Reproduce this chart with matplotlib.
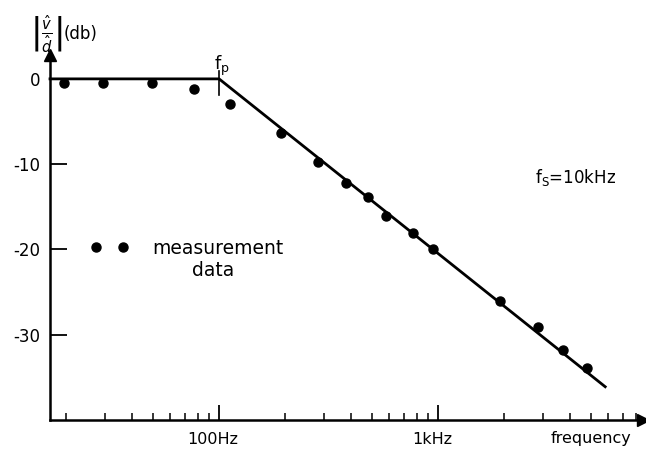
import matplotlib
matplotlib.use("Agg")
import matplotlib.pyplot as plt
import matplotlib.transforms as mtransforms

plt.rcParams['font.family'] = ['DejaVu Sans']
plt.rcParams['mathtext.fontset'] = 'dejavusans'

# measured points (Hz, dB)
meas_f = [19.6, 29.5, 49.4, 76.9, 112, 192, 283, 380, 479, 579, 769, 949,
          1920, 2860, 3720, 4790]
meas_db = [-0.5, -0.5, -0.5, -1.2, -2.9, -6.3, -9.8, -12.2, -13.8, -16.1,
           -18.1, -19.9, -26.1, -29.1, -31.8, -33.9]

# straight-line asymptote
asym_f = [16.9, 100, 5800]
asym_db = [0, 0, -36.1]

fp = 100
major_f = [100, 1000]
major_labels = ["100Hz", "1kHz"]
minor_f = [20, 30, 40, 50, 60, 70, 80, 90,
           200, 300, 400, 500, 600, 700, 800, 900,
           2000, 3000, 4000, 5000, 6000, 7000, 8000]
y_ticks = [0, -10, -20, -30]
y_labels = ["0", "-10", "-20", "-30"]

fig = plt.figure(figsize=(6.46, 4.50), dpi=100)
ax = fig.add_axes([50 / 646, 30 / 450, 593 / 646, 365 / 450])
ax.set_xscale('log')
ax.set_xlim(16.9, 8630)
ax.set_ylim(-40, 2.8)

for s in ['top', 'right']:
    ax.spines[s].set_visible(False)
for s in ['left', 'bottom']:
    ax.spines[s].set_linewidth(1.8)

# arrow heads on the axes
ax.plot(1, 0, '>k', ms=9, transform=ax.transAxes, clip_on=False)
ax.plot(0, 1, '^k', ms=9, transform=ax.transAxes, clip_on=False)

ax.plot(asym_f, asym_db, color='black', lw=2.0, clip_on=False)
ax.plot([fp, fp], [0.9, -1.9], color='black', lw=1.2)
ax.plot(meas_f, meas_db, 'o', color='black', ms=6.5, clip_on=False)

ax.set_xticks(major_f)
ax.set_xticklabels(major_labels)
ax.set_xticks(minor_f, minor=True)
ax.xaxis.set_minor_formatter(matplotlib.ticker.NullFormatter())
ax.tick_params(axis='x', which='major', direction='in', length=11, width=1.3,
               labelsize=11.5, pad=9)
ax.tick_params(axis='x', which='minor', direction='in', length=5, width=1.1)
ax.set_yticks(y_ticks)
ax.set_yticklabels(y_labels)
ax.tick_params(axis='y', direction='in', length=12, width=1.3, labelsize=12,
               pad=7)

# nudge x tick labels a little left, like the drawing
shift = mtransforms.ScaledTranslation(-6 / 100, 0, fig.dpi_scale_trans)
for lab in ax.get_xticklabels():
    lab.set_transform(lab.get_transform() + shift)

fig.text(591 / 646, 1 - 438 / 450, "frequency", ha='center', va='center',
         fontsize=11.5)
fig.text(30 / 646, 1 - 34 / 450,
         r'$\left|\frac{\hat{v}}{\hat{d}}\right|$', ha='left',
         va='center', fontsize=15)
fig.text(64 / 646, 1 - 34 / 450, "(db)", ha='left', va='center',
         fontsize=12)
fig.text(222 / 646, 1 - 66 / 450, r'$\mathregular{f_p}$', ha='center',
         va='center', fontsize=13)
fig.text(576 / 646, 1 - 178 / 450, r'$\mathregular{f_S}$=10kHz', ha='center',
         va='center', fontsize=12)

# legend marker pair and text
fig.lines.append(matplotlib.lines.Line2D([96 / 646, 123 / 646],
                                         [1 - 247 / 450, 1 - 247 / 450],
                                         transform=fig.transFigure,
                                         marker='o', ls='none', color='black',
                                         ms=6.5))
fig.text(152 / 646, 1 - 249 / 450, "measurement", ha='left', va='center',
         fontsize=13.5)
fig.text(192 / 646, 1 - 271 / 450, "data", ha='left', va='center',
         fontsize=13.5)

fig.savefig("out.png", dpi=100)
